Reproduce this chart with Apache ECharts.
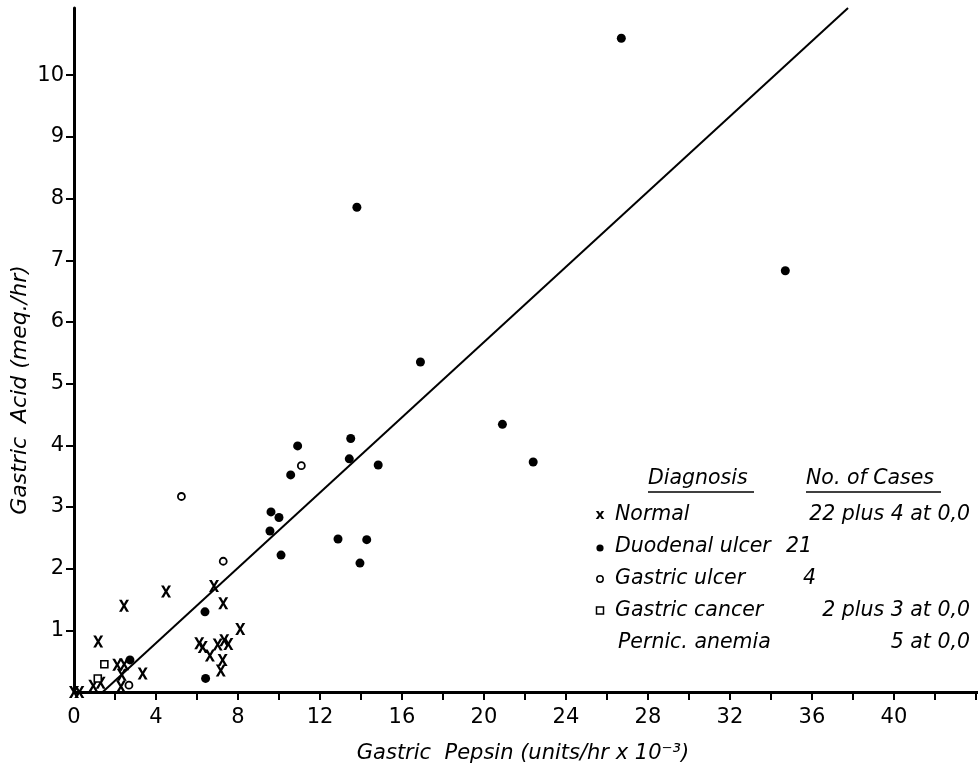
<!DOCTYPE html>
<html><head><meta charset="utf-8">
<script src="https://cdn.jsdelivr.net/npm/echarts@6/dist/echarts.min.js"></script>
<style>html,body{margin:0;padding:0;background:#fff}#c{width:978px;height:771px}</style>
</head><body><div id="c"></div>
<script>
// ---- data (pepsin x, acid y) ----
const normalPts = [[0,0],[0.26,0.0],[0.94,0.10],[1.30,0.15],[1.18,0.82],[2.11,0.44],[2.45,0.45],[2.33,0.28],[2.29,0.09],[3.35,0.30],[2.44,1.40],[4.49,1.63],[6.83,1.72],[7.28,1.44],[8.11,1.02],[6.11,0.79],[6.28,0.73],[6.63,0.59],[7.01,0.77],[7.33,0.84],[7.53,0.78],[7.25,0.52],[7.16,0.35]];
const duodenalPts = [[26.7,10.6],[34.7,6.83],[13.8,7.86],[16.9,5.35],[20.9,4.34],[22.4,3.73],[10.91,3.99],[13.5,4.11],[13.43,3.78],[10.57,3.52],[14.84,3.68],[9.61,2.92],[10.0,2.83],[9.56,2.61],[10.1,2.22],[12.88,2.48],[14.28,2.47],[13.95,2.09],[6.39,1.30],[6.42,0.22],[2.73,0.52]];
const gastricUlcerPts = [[5.24,3.17],[11.09,3.67],[7.28,2.12],[2.68,0.11]];
const gastricCancerPts = [[1.48,0.45],[1.16,0.22]];
const regressionLine = [[1.4,0],[37.76,11.09]];
const xTickValues = [2,4,6,8,10,12,14,16,18,20,22,24,26,28,30,32,34,36,38,40,42,44];
const xLabelValues = [0,4,8,12,16,20,24,28,32,36,40];
const yTickValues = [1,2,3,4,5,6,7,8,9,10];
const legendDiagnoses = ['Normal','Duodenal ulcer','Gastric ulcer','Gastric cancer','Pernic. anemia'];
const legendCases = ['22 plus 4 at 0,0','21','4','2 plus 3 at 0,0','5 at 0,0'];
const xAxisTitle = 'Gastric  Pepsin (units/hr x 10⁻³)';
const yAxisTitle = 'Gastric  Acid (meq./hr)';

const FONT = 'DejaVu Sans';
const LFONT = 'oblique 20.5px "DejaVu Sans"';
const xPath = 'path://M0,0 L2.8,0 L5,4.0 L7.2,0 L10,0 L6.4,6 L10,12 L7.2,12 L5,8.0 L2.8,12 L0,12 L3.6,6 Z';

const chart = echarts.init(document.getElementById('c'), null, {renderer:'canvas'});

const rowY0 = 515, rowGap = 32, symX = 600, nameX = 615;
const graphics = [];
graphics.push({type:'text', left:648, top:469, style:{text:'Diagnosis', font:LFONT, fill:'#000'}});
graphics.push({type:'line', shape:{x1:648,y1:492,x2:754,y2:492}, style:{stroke:'#000', lineWidth:1.5}});
graphics.push({type:'text', left:806, top:469, style:{text:'No. of Cases', font:LFONT, fill:'#000'}});
graphics.push({type:'line', shape:{x1:806,y1:492,x2:941,y2:492}, style:{stroke:'#000', lineWidth:1.5}});
legendDiagnoses.forEach((d,i)=>{
  const cy = rowY0 + rowGap*i;
  graphics.push({type:'text', x: (i===4? nameX+3 : nameX), y: cy, style:{text:d, font:LFONT, fill:'#000', verticalAlign:'middle', align:'left'}});
  const c = legendCases[i];
  const rightAligned = (i===0 || i===3 || i===4);
  graphics.push({type:'text', x: rightAligned ? 970 : 786 + (i===2?17:0), y: cy, style:{text:c, font:LFONT, fill:'#000', verticalAlign:'middle', align: rightAligned?'right':'left'}});
});
graphics.push({type:'text', x:symX, y:rowY0, style:{text:'x', font:'bold 14px "DejaVu Sans"', fill:'#000', align:'center', verticalAlign:'middle'}});
graphics.push({type:'circle', shape:{cx:symX, cy:rowY0+rowGap+1, r:3.6}, style:{fill:'#000'}});
graphics.push({type:'circle', shape:{cx:symX, cy:rowY0+rowGap*2, r:3.2}, style:{fill:'#fff', stroke:'#000', lineWidth:1.5}});
graphics.push({type:'rect', shape:{x:symX-3.5, y:rowY0+rowGap*3-4, width:7, height:7}, style:{fill:'#fff', stroke:'#000', lineWidth:1.5}});
// axis titles
graphics.push({type:'text', x:523, y:754, style:{text:xAxisTitle, font:'oblique 21px "DejaVu Sans"', fill:'#000', align:'center', verticalAlign:'middle'}});
graphics.push({type:'text', x:20, y:390, rotation:Math.PI/2, style:{text:yAxisTitle, font:'oblique 22px "DejaVu Sans"', fill:'#000', align:'center', verticalAlign:'middle'}});

chart.setOption({
  animation:false,
  backgroundColor:'#fff',
  grid:{left:74, right:0, top:8, bottom:79, containLabel:false},
  xAxis:{
    type:'value', min:0, max:44.1,
    axisLine:{lineStyle:{color:'#000', width:3}},
    axisTick:{show:true, length:8, inside:false, lineStyle:{color:'#000', width:2}, customValues:xTickValues},
    axisLabel:{customValues:xLabelValues, color:'#000', fontFamily:FONT, fontSize:21, margin:15},
    splitLine:{show:false}
  },
  yAxis:{
    type:'value', min:0, max:11.09,
    axisLine:{show:true, lineStyle:{color:'#000', width:3}},
    axisTick:{show:true, length:8, lineStyle:{color:'#000', width:2}, customValues:yTickValues},
    axisLabel:{customValues:yTickValues, color:'#000', fontFamily:FONT, fontSize:21, margin:10},
    splitLine:{show:false}
  },
  graphic: graphics,
  series:[
    {name:'Regression', type:'line', data:regressionLine, showSymbol:false, symbol:'none', lineStyle:{color:'#000', width:2}, silent:true, z:1},
    {name:'Normal', type:'scatter', data:normalPts, symbol:xPath, symbolSize:[10,12], itemStyle:{color:'#000', opacity:1}, clip:false, z:3},
    {name:'Duodenal ulcer', type:'scatter', data:duodenalPts, symbol:'circle', symbolSize:9, itemStyle:{color:'#000', opacity:1}, clip:false, z:3},
    {name:'Gastric ulcer', type:'scatter', data:gastricUlcerPts, symbol:'circle', symbolSize:7, itemStyle:{color:'#fff', borderColor:'#000', borderWidth:1.8, opacity:1}, clip:false, z:3},
    {name:'Gastric cancer', type:'scatter', data:gastricCancerPts, symbol:'rect', symbolSize:7, itemStyle:{color:'#fff', borderColor:'#000', borderWidth:1.6, opacity:1}, clip:false, z:3}
  ]
});
</script></body></html>
